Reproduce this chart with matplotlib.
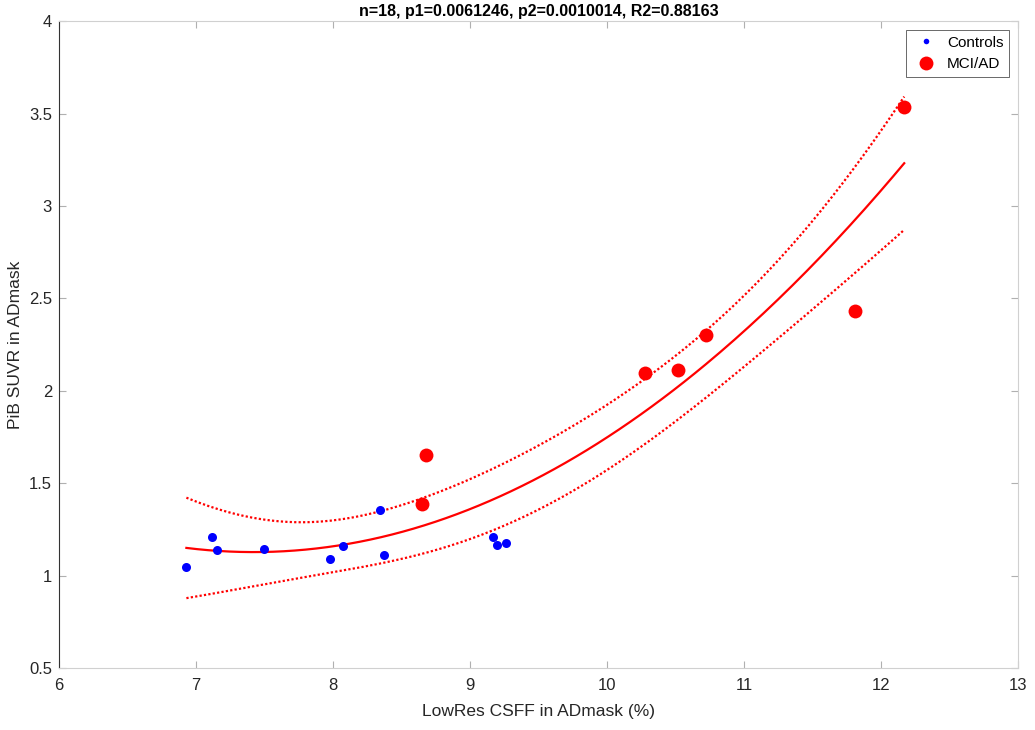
import numpy as np
import matplotlib
matplotlib.use("Agg")
import matplotlib.pyplot as plt

plt.rcParams['font.family'] = ['Liberation Sans', 'DejaVu Sans']

# Data
ctrl_x = [6.93, 7.12, 7.15, 7.50, 7.98, 8.07, 8.34, 8.37, 9.17, 9.20, 9.26]
ctrl_y = [1.045, 1.21, 1.14, 1.145, 1.09, 1.16, 1.355, 1.11, 1.21, 1.165, 1.175]
ad_x = [8.65, 8.68, 10.28, 10.52, 10.72, 11.81, 12.17]
ad_y = [1.385, 1.655, 2.095, 2.11, 2.30, 2.43, 3.535]

title = "n=18, p1=0.0061246, p2=0.0010014, R2=0.88163"
xlabel = "LowRes CSFF in ADmask (%)"
ylabel = "PiB SUVR in ADmask"
xticks = [6, 7, 8, 9, 10, 11, 12, 13]
yticks = [0.5, 1, 1.5, 2, 2.5, 3, 3.5, 4]

x = np.array(ctrl_x + ad_x)
y = np.array(ctrl_y + ad_y)

# quadratic fit with confidence band
coef = np.polyfit(x, y, 2)
X = np.vander(x, 3)
resid = y - X @ coef
dof = len(x) - 3
s2 = resid @ resid / dof
cov = s2 * np.linalg.inv(X.T @ X)
tval = 2.131
xf = np.linspace(x.min(), x.max(), 200)
Xf = np.vander(xf, 3)
yf = Xf @ coef
se = np.sqrt(np.einsum('ij,jk,ik->i', Xf, cov, Xf))
upper = yf + tval * se
lower = yf - tval * se

fig = plt.figure(figsize=(10.35, 7.3), dpi=100)
ax = fig.add_axes([0.057, 0.085, 0.9265, 0.886])

ax.plot(xf, yf, color='#ff0000', lw=1.6, zorder=2)
ax.plot(xf, upper, color='#ff0000', lw=1.6, ls=(0, (1, 1)), zorder=2)
ax.plot(xf, lower, color='#ff0000', lw=1.6, ls=(0, (1, 1)), zorder=2)

ax.plot(ctrl_x, ctrl_y, 'o', color='#0000ff', ms=6.5, mec='none', label='Controls', zorder=3)
ax.plot(ad_x, ad_y, 'o', color='#ff0000', ms=10, mec='none', label='MCI/AD', zorder=3)

ax.set_xlim(6, 13)
ax.set_ylim(0.5, 4)
ax.set_xticks(xticks)
ax.set_yticks(yticks)
ax.set_xticklabels([str(t) for t in xticks])
ax.set_yticklabels([f"{t:g}" for t in yticks])
ax.tick_params(direction='in', length=5, width=0.8, color='#b0b0b0', labelcolor='#262626',
               labelsize=12, top=True, right=True)
ax.tick_params(axis='x', pad=7)
ax.tick_params(axis='y', pad=5)
for name, sp in ax.spines.items():
    sp.set_color('#d0d0d0')
    sp.set_linewidth(0.8)
ax.spines['left'].set_color('#333333')

ax.set_xlabel(xlabel, fontsize=12.5, color='#262626', labelpad=8)
ax.set_ylabel(ylabel, fontsize=12.5, color='#262626', labelpad=4)
ax.set_title(title, fontsize=11.5, fontweight='bold', pad=4)

leg = ax.legend(loc='upper right', fontsize=11, frameon=True, fancybox=False,
                edgecolor='#262626', borderpad=0.35, handletextpad=0.5,
                handlelength=1.8, borderaxespad=0.6, markerscale=1)
leg.get_frame().set_linewidth(0.6)
leg.legend_handles[0].set_markersize(4)

fig.savefig('out.png', dpi=100)
